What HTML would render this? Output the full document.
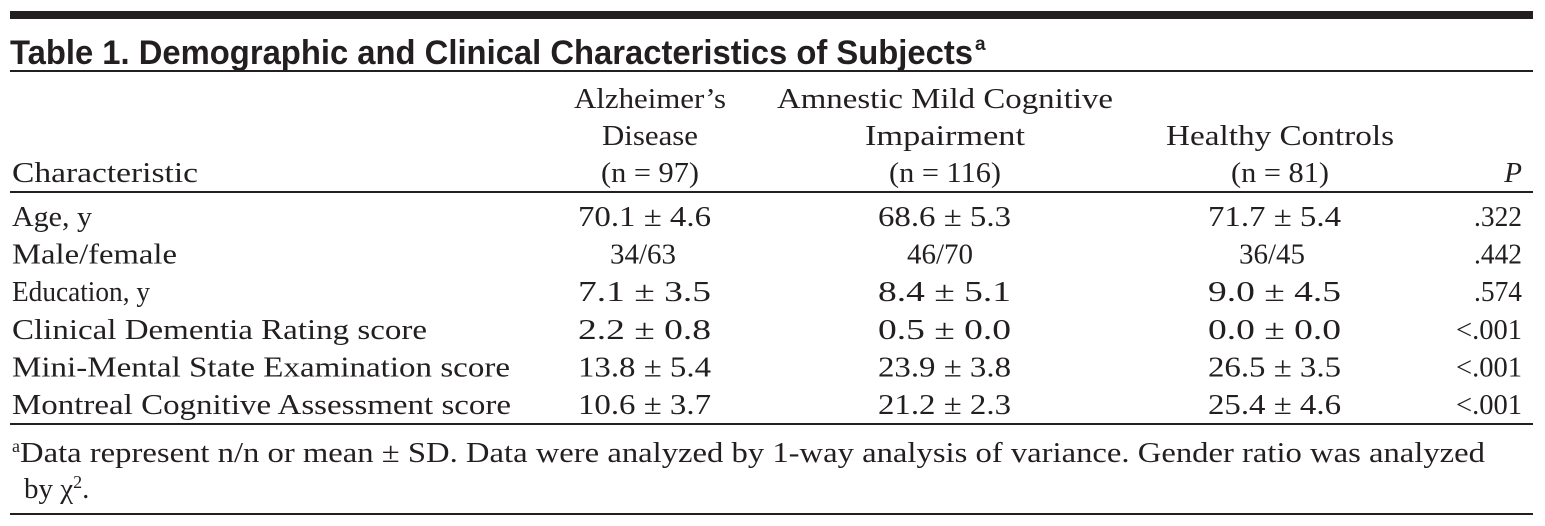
<!DOCTYPE html>
<html><head><meta charset="utf-8"><style>
html,body{margin:0;padding:0;background:#fff;}
svg{display:block;}
text{font-family:"Liberation Serif",serif;fill:#231f20;}
.t{font-family:"Liberation Sans",sans-serif;font-weight:bold;}
</style></head><body>
<svg width="1545" height="526" viewBox="0 0 1545 526">
<rect x="10" y="11" width="1523" height="8" fill="#231f20"/>
<text class="t" x="10" y="64" font-size="34" textLength="963" lengthAdjust="spacingAndGlyphs">Table 1. Demographic and Clinical Characteristics of Subjects</text>
<text class="t" x="975" y="50" font-size="19">a</text>
<rect x="10" y="70" width="1523" height="2" fill="#231f20"/>
<g font-size="29">
<text x="650" y="108" text-anchor="middle" textLength="152" lengthAdjust="spacingAndGlyphs">Alzheimer’s</text>
<text x="650" y="145" text-anchor="middle" textLength="96" lengthAdjust="spacingAndGlyphs">Disease</text>
<text x="650" y="182" text-anchor="middle" textLength="98" lengthAdjust="spacingAndGlyphs">(n = 97)</text>
<text x="945" y="108" text-anchor="middle" textLength="336" lengthAdjust="spacingAndGlyphs">Amnestic Mild Cognitive</text>
<text x="945" y="145" text-anchor="middle" textLength="160" lengthAdjust="spacingAndGlyphs">Impairment</text>
<text x="945" y="182" text-anchor="middle" textLength="112" lengthAdjust="spacingAndGlyphs">(n = 116)</text>
<text x="1280" y="145" text-anchor="middle" textLength="228" lengthAdjust="spacingAndGlyphs">Healthy Controls</text>
<text x="1280" y="182" text-anchor="middle" textLength="98" lengthAdjust="spacingAndGlyphs">(n = 81)</text>
<text x="1522" y="182" text-anchor="end" font-style="italic">P</text>
<text x="12" y="182" textLength="186" lengthAdjust="spacingAndGlyphs">Characteristic</text>
</g>
<rect x="10" y="191" width="1523" height="2" fill="#231f20"/>
<g font-size="29" id="rows"></g>
<rect x="10" y="423" width="1523" height="2" fill="#231f20"/>
<text x="12" y="462" font-size="29"><tspan font-size="18" dy="-10">a</tspan><tspan dy="10" textLength="1465" lengthAdjust="spacingAndGlyphs">Data represent n/n or mean ± SD. Data were analyzed by 1-way analysis of variance. Gender ratio was analyzed</tspan></text>
<text x="24" y="498" font-size="29">by χ<tspan font-size="18" dy="-10">2</tspan><tspan dy="10">.</tspan></text>
<rect x="10" y="513" width="1523" height="2" fill="#231f20"/>
</svg>
<script>
const labels=["Age, y","Male/female","Education, y","Clinical Dementia Rating score","Mini-Mental State Examination score","Montreal Cognitive Assessment score"];
const labelW=[80,165,138,415,498,499];
const ad=["70.1 ± 4.6","34/63","7.1 ± 3.5","2.2 ± 0.8","13.8 ± 5.4","10.6 ± 3.7"];
const amci=["68.6 ± 5.3","46/70","8.4 ± 5.1","0.5 ± 0.0","23.9 ± 3.8","21.2 ± 2.3"];
const hc=["71.7 ± 5.4","36/45","9.0 ± 4.5","0.0 ± 0.0","26.5 ± 3.5","25.4 ± 4.6"];
const pv=[".322",".442",".574","<.001","<.001","<.001"];
const g=document.getElementById('rows');
const NS="http://www.w3.org/2000/svg";
function mk(txt,x,y,anchor,len){
 const t=document.createElementNS(NS,'text');
 t.setAttribute('x',x);t.setAttribute('y',y);
 if(anchor)t.setAttribute('text-anchor',anchor);
 if(len){t.setAttribute('textLength',len);t.setAttribute('lengthAdjust','spacingAndGlyphs');}
 t.textContent=txt;g.appendChild(t);return t;
}
function vw(s){const d=s.replace(/[^0-9]/g,'').length;return d>=4?133:116;}
labels.forEach((l,i)=>{
 const y=226+i*37.6;
 let t=mk(l,12,y,null,labelW[i]);
 
 
 const slash=ad[i].indexOf('/')>=0;
 t=slash?mk(ad[i],643,y,'middle',66):mk(ad[i],711,y,'end',vw(ad[i]));
 
 
 t=slash?mk(amci[i],940,y,'middle',66):mk(amci[i],1011,y,'end',vw(amci[i]));
 
 
 t=slash?mk(hc[i],1272,y,'middle',66):mk(hc[i],1341,y,'end',vw(hc[i]));
 
 
 t=mk(pv[i],1522,y,'end',pv[i].length>4?66:48);
 
 
});
</script>
</body></html>
